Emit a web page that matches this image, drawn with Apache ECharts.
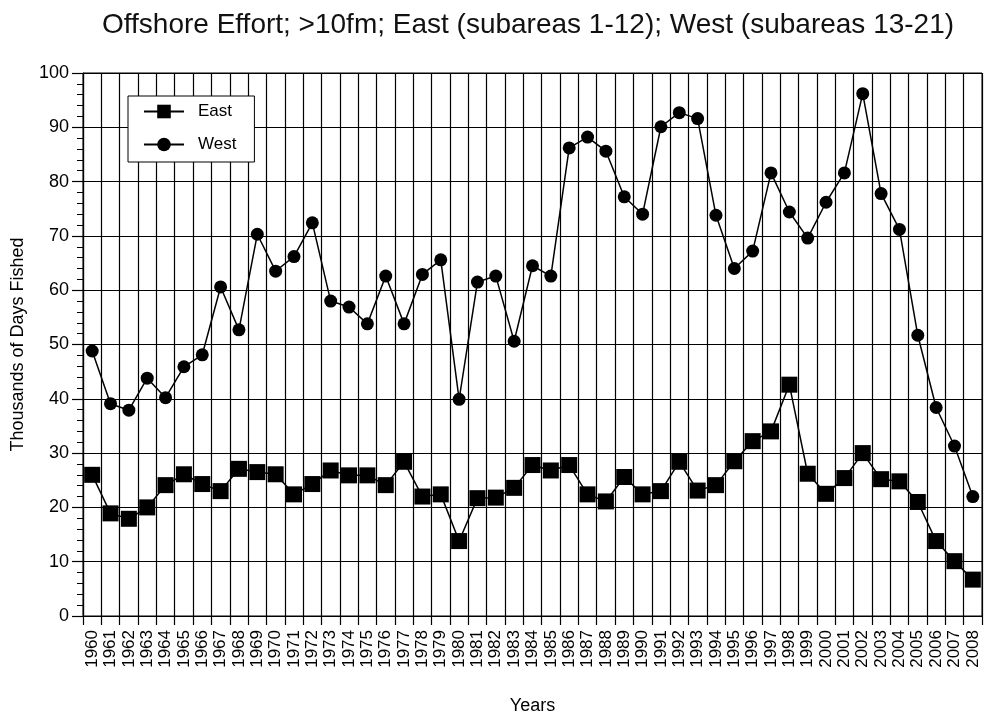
<!DOCTYPE html>
<html>
<head>
<meta charset="utf-8">
<script src="https://cdn.jsdelivr.net/npm/echarts@6/dist/echarts.min.js"></script>
<style>
  html, body { margin: 0; padding: 0; background: #fff; }
  #chart { width: 984px; height: 715px; }
</style>
</head>
<body>
<div id="chart"></div>
<script>
// years on the x axis
const years = [];
for (let y = 1960; y <= 2008; y++) years.push(String(y));

// thousands of days fished
const eastData = [26.0, 18.9, 17.9, 20.0, 24.1, 26.1, 24.3, 23.0, 27.1, 26.5,
  26.1, 22.4, 24.3, 26.8, 25.9, 25.9, 24.1, 28.4, 22.0, 22.4,
  13.8, 21.7, 21.8, 23.6, 27.8, 26.8, 27.8, 22.4, 21.1, 25.6,
  22.4, 23.0, 28.4, 23.1, 24.1, 28.5, 32.2, 34.0, 42.6, 26.2,
  22.5, 25.4, 30.0, 25.2, 24.8, 21.0, 13.8, 10.1, 6.7];
const westData = [48.8, 39.1, 37.9, 43.8, 40.2, 45.9, 48.1, 60.6, 52.7, 70.3,
  63.5, 66.2, 72.4, 58.0, 56.9, 53.8, 62.6, 53.8, 62.9, 65.6,
  39.9, 61.5, 62.6, 50.6, 64.5, 62.6, 86.2, 88.2, 85.6, 77.2,
  74.0, 90.1, 92.7, 91.6, 73.8, 64.0, 67.2, 81.6, 74.4, 69.6,
  76.2, 81.6, 96.2, 77.8, 71.2, 51.7, 38.4, 31.3, 22.0];

const fontFamily = '"Liberation Sans", Arial, sans-serif';
const chart = echarts.init(document.getElementById('chart'));

const option = {
    animation: false,
    textStyle: { fontFamily: fontFamily, color: '#000' },
    title: {
        text: 'Offshore Effort; >10fm; East (subareas 1-12); West (subareas 13-21)',
        left: 97,
        top: 6,
        textStyle: { fontFamily: fontFamily, fontSize: 28, fontWeight: 'normal', color: '#111' }
    },
    legend: {
        orient: 'vertical',
        left: 128,
        top: 96,
        backgroundColor: '#fff',
        borderColor: '#000',
        borderWidth: 1,
        padding: [7, 18, 9, 15],
        itemWidth: 40,
        itemHeight: 17,
        itemGap: 16,
        textStyle: { fontFamily: fontFamily, fontSize: 17, color: '#000', padding: [0, 0, 0, 9] },
        data: ['East', 'West']
    },
    grid: {
        left: 83,
        right: 2,
        top: 73,
        bottom: 99,
        outerBoundsMode: 'none',
        show: true,
        borderColor: '#000',
        borderWidth: 1
    },
    xAxis: {
        type: 'category',
        data: years,
        boundaryGap: true,
        name: 'Years',
        nameLocation: 'middle',
        nameGap: 81,
        nameTextStyle: { fontSize: 18, color: '#000' },
        axisLine: { lineStyle: { color: '#000', width: 1.2 } },
        axisTick: { show: true, interval: 0, length: 9, lineStyle: { color: '#000', width: 1.2 } },
        axisLabel: { interval: 0, rotate: 90, fontSize: 17, color: '#000', margin: 14 },
        splitLine: { show: true, interval: 0, lineStyle: { color: '#000', width: 1.2 } }
    },
    yAxis: {
        type: 'value',
        min: 0,
        max: 100,
        interval: 10,
        name: 'Thousands of Days Fished',
        nameLocation: 'middle',
        nameGap: 56,
        nameTextStyle: { fontSize: 18, color: '#000' },
        axisLine: { show: true, lineStyle: { color: '#000', width: 1.2 } },
        axisTick: { show: true, length: 11, lineStyle: { color: '#000', width: 1.2 } },
        minorTick: { show: true, splitNumber: 5, length: 6, lineStyle: { color: '#000', width: 1 } },
        axisLabel: { fontSize: 18, color: '#000', margin: 14 },
        splitLine: { show: true, lineStyle: { color: '#000', width: 1.2 } }
    },
    series: [
        {
            name: 'East',
            type: 'line',
            data: eastData,
            symbol: 'rect',
            symbolSize: 16,
            lineStyle: { color: '#000', width: 1.5 },
            itemStyle: { color: '#000' },
            z: 3
        },
        {
            name: 'West',
            type: 'line',
            data: westData,
            symbol: 'circle',
            symbolSize: 13,
            lineStyle: { color: '#000', width: 1.5 },
            itemStyle: { color: '#000' },
            z: 3
        }
    ]
};
chart.setOption(option);
</script>
</body>
</html>
